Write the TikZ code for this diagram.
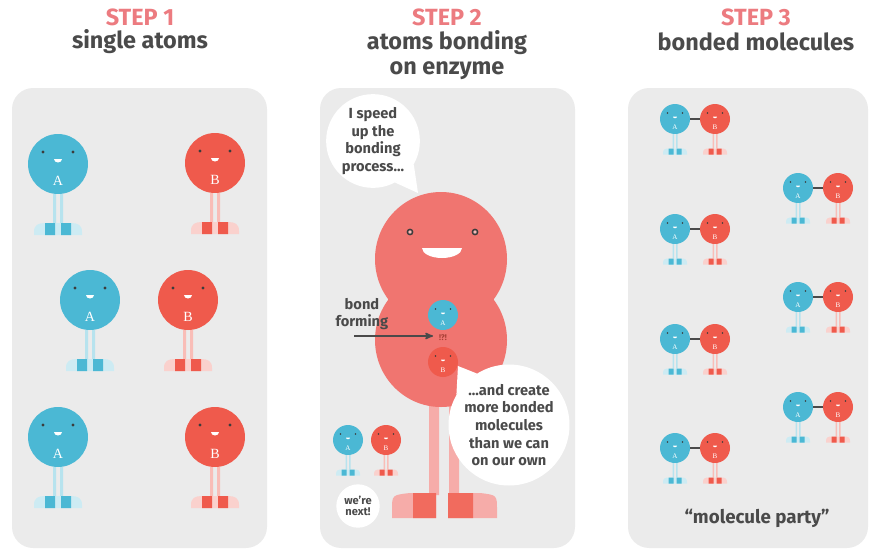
\documentclass[tikz,border=0pt]{standalone}
\usepackage{fontspec}
\setmainfont{Fira Sans}
\newfontfamily\letterfont{Liberation Serif}
\usetikzlibrary{arrows,positioning}

\definecolor{panelgray}{HTML}{EBEBEB}
\definecolor{atomblue}{HTML}{4BB8D4}
\definecolor{atomred}{HTML}{EF5A4C}
\definecolor{enzymepink}{HTML}{F07570}
\definecolor{steppink}{HTML}{EC7B80}
\definecolor{inkgray}{HTML}{4A4A4A}
\definecolor{eyedark}{HTML}{3C3C3C}

\begin{document}
\begin{tikzpicture}[x=0.03cm,y=-0.03cm,>=stealth',
    panel/.style={fill=panelgray,rounded corners=18pt},
    steplbl/.style={text=steppink,font=\bfseries\fontsize{20}{22}\selectfont},
    desc/.style={text=inkgray,font=\bfseries\fontsize{20}{22}\selectfont,align=center},
    bubble/.style={circle,fill=white,inner sep=0pt,text=inkgray,align=center,
                   font=\bfseries\fontsize{12.5}{15}\selectfont},
    bond/.style={draw=inkgray,line width=2.2pt},
    pics/legs/.style={code={
      \fill[#1!40] (-5,30) rectangle (-2,59) (2,30) rectangle (5,59);
      \fill[#1!28] (-24,71) -- (-24,68) .. controls (-24,61) and (-20,59) .. (-13,59)
                   -- (13,59) .. controls (20,59) and (24,61) .. (24,68) -- (24,71) -- cycle;
      \fill[#1] (-13,59) rectangle (-3,71) (3,59) rectangle (13,71);
    }},
    pics/atom/.style 2 args={code={
      \node[circle,fill=#1,minimum size=51.2pt,inner sep=0pt,transform shape] (-body) at (0,0) {};
      \fill[eyedark] (-15,-12) circle (1.6) (15,-12) circle (1.6);
      \fill[white] (-4,-5) arc (180:0:4 and 3.5) -- cycle;
      \node[text=white,font=\letterfont\fontsize{12}{12}\selectfont,transform shape] at (0,17) {#2};
    }}]
  \useasboundingbox (0,0) rectangle (870,552);

  % headings
  \node[steplbl] (step1) at (140,17) {STEP 1};
  \node[desc] (head1) at (140,42) {single atoms};
  \node[steplbl] (step2) at (447,17) {STEP 2};
  \node[desc] (head2) at (447,55) {atoms bonding\\on enzyme};
  \node[steplbl] (step3) at (756,17) {STEP 3};
  \node[desc] (head3) at (756,42) {bonded molecules};

  % the three panels
  \fill[panel] (12,88) rectangle (267,548);
  \fill[panel] (320,88) rectangle (575,548);
  \fill[panel] (628,88) rectangle (868,548);

  % step 1: lonely atoms
  \foreach \x/\y/\col/\ltr in {58/164/atomblue/A, 215/163/atomred/B,
                               90/300/atomblue/A, 188/300/atomred/B,
                               58/437/atomblue/A, 215/437/atomred/B}{
    \pic at (\x,\y) {legs=\col};
    \pic at (\x,\y) {atom={\col}{\ltr}};
  }

  % step 2: the enzyme
  \fill[enzymepink!60] (429,400) rectangle (439,495) (449,400) rectangle (459,495);
  \fill[enzymepink!60] (392,518) -- (392,510) .. controls (392,495) .. (410,493)
                       -- (436,493) -- (436,518) -- cycle;
  \fill[enzymepink!60] (448,518) -- (448,493) -- (480,493)
                       .. controls (497,495) .. (497,510) -- (497,518) -- cycle;
  \fill[atomred!90] (413,493) rectangle (436,518) (448,493) rectangle (473,518);
  \fill[enzymepink] (441,259) ellipse (66 and 67) (441,340) ellipse (66 and 67);
  \filldraw[fill=enzymepink!50,draw=eyedark,line width=1.3pt]
    (410,232) circle (2.6) (475,232) circle (2.6);
  \fill[white] (422,248) arc (180:0:20 and 10) -- cycle;

  \pic[scale=.5] (eb) at (443,315) {atom={atomblue}{A}};
  \pic[scale=.5] (er) at (443,362) {atom={atomred}{B}};
  \node[font=\bfseries\fontsize{7}{7}\selectfont,text=atomred!70!black,inner sep=5pt]
    (sparks) at (443,338) {!?!};

  \node[text=inkgray,font=\bfseries\fontsize{12.5}{15}\selectfont,align=center]
    (bondlbl) at (362,314) {bond\\forming};
  \coordinate (arrtail) at (354,336);
  \draw[->,inkgray,line width=1.3pt] (arrtail) -- (arrtail -| sparks.west);

  % the next pair waiting
  \foreach \x/\col/\ltr in {348/atomblue/A, 386/atomred/B}{
    \pic[scale=.5] at (\x,440) {legs=\col};
    \pic[scale=.5] at (\x,440) {atom={\col}{\ltr}};
  }

  % speech bubbles
  \node[bubble,minimum size=80pt] (talk1) at (373,141) {I speed\\up the\\bonding\\process...};
  \coordinate (talk1tip) at (418,193);
  \fill[white] (talk1.-30) -- (talk1tip) -- (talk1.-62) -- cycle;

  \node[bubble,minimum size=99pt] (talk2) at (509,425)
    {...and create\\more bonded\\molecules\\than we can\\on our own};
  \coordinate (talk2tip) at (458,366);
  \fill[white] (talk2.122) -- (talk2tip) -- (talk2.150) -- cycle;

  \node[bubble,minimum size=37pt,font=\bfseries\fontsize{9.5}{9.5}\selectfont]
    (talk3) at (358,506) {we're\\next!};

  % step 3: molecules
  \foreach \x/\y [count=\i] in {675/119, 798/188, 675/229, 798/297,
                                675/339, 798/407, 675/448}{
    \pic[scale=.5] at (\x,\y) {legs=atomblue};
    \pic[scale=.5] at (\x+40,\y) {legs=atomred};
    \pic[scale=.5] (a\i) at (\x,\y) {atom={atomblue}{A}};
    \pic[scale=.5] (b\i) at (\x+40,\y) {atom={atomred}{B}};
    \draw[bond] (a\i-body) -- (b\i-body);
  }
  \node[text=inkgray,font=\bfseries\fontsize{16}{18}\selectfont] (party) at (757,518)
    {“molecule party”};
\end{tikzpicture}
\end{document}
